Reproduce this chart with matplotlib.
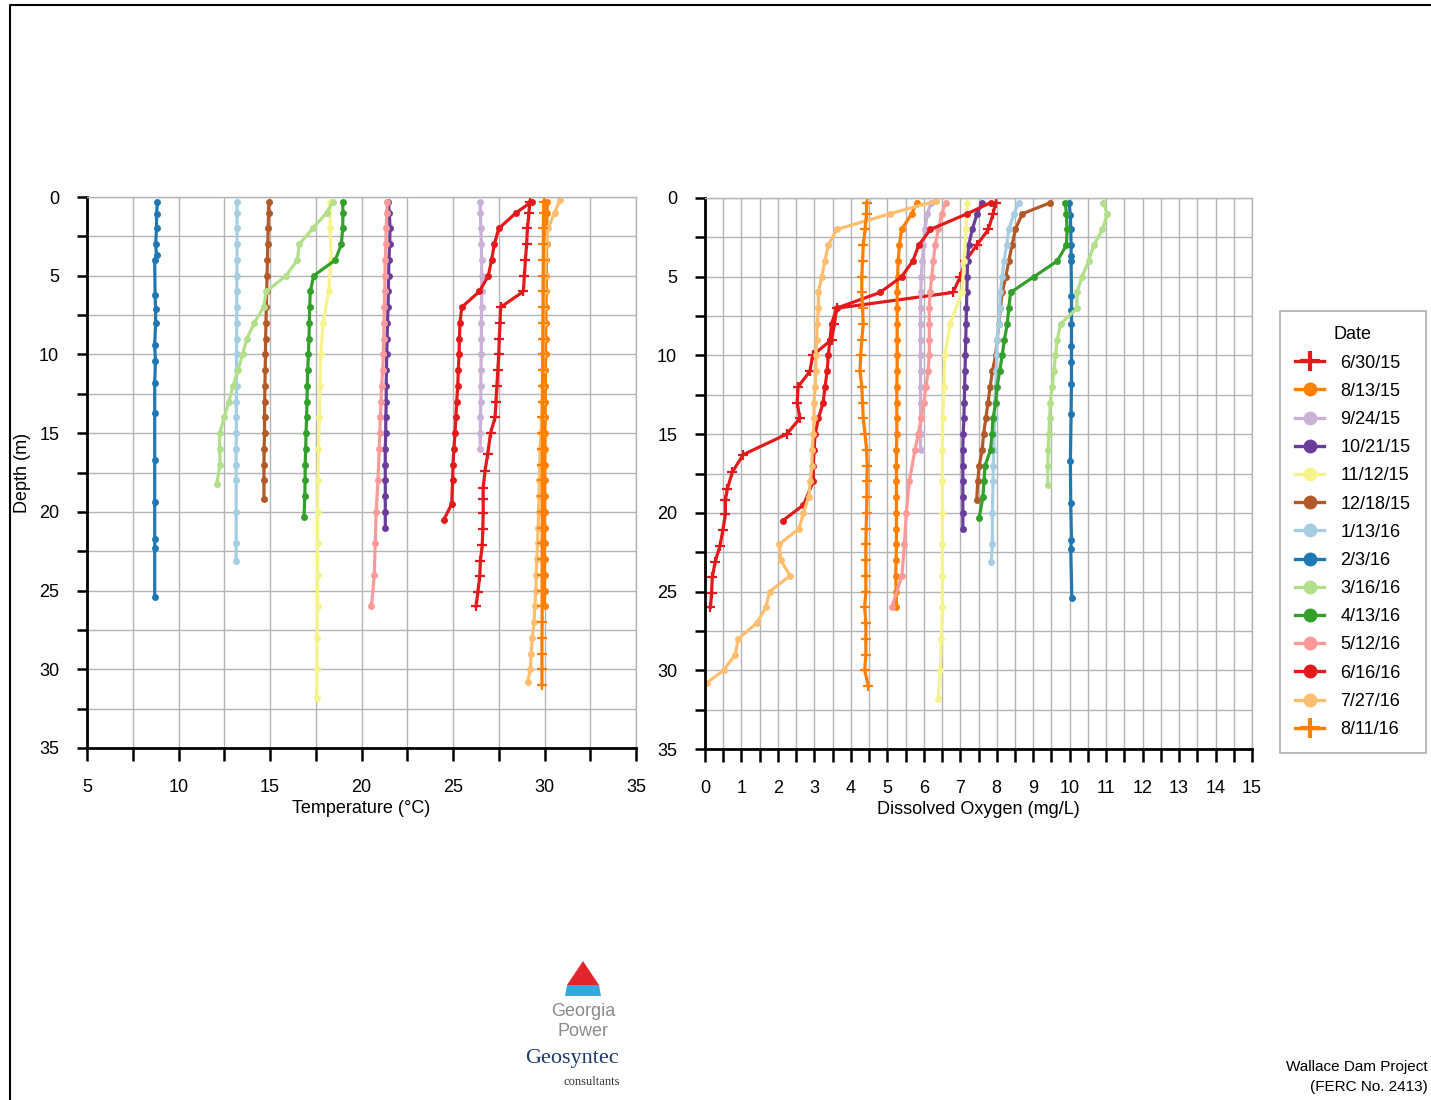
import matplotlib
matplotlib.use('Agg')
import matplotlib.pyplot as plt
from matplotlib.patches import Polygon
from matplotlib.lines import Line2D
from matplotlib.ticker import MultipleLocator

plt.rcParams['font.family'] = ['Liberation Sans', 'DejaVu Sans']

# profile data: depth (m), temperature (C), dissolved oxygen (mg/L)
dates = ['6/30/15', '8/13/15', '9/24/15', '10/21/15', '11/12/15', '12/18/15', '1/13/16',
         '2/3/16', '3/16/16', '4/13/16', '5/12/16', '6/16/16', '7/27/16', '8/11/16']
colors = ['#e31a1c', '#ff7f00', '#cab2d6', '#6a3d9a', '#f7f38c', '#b15928', '#a6cee3',
          '#1f78b4', '#b2df8a', '#33a02c', '#fb9a99', '#e31a1c', '#fdbf6f', '#ff7f00']
markers = ['+', 'o', 'o', 'o', 'o', 'o', 'o', 'o', 'o', 'o', 'o', 'o', 'o', '+']

depth_063015 = [0.3, 1, 2, 3, 4, 5, 6, 7, 8, 9, 10, 11, 12, 13, 14, 15, 16.3, 17.4, 18.5, 19.2,
                20.1, 21.1, 22.1, 23.1, 24.1, 25.1, 26.0]
temp_063015 = [29.2, 29.15, 29.07, 29.02, 28.96, 28.9, 28.85, 27.6, 27.57, 27.53, 27.5, 27.45,
               27.4, 27.35, 27.3, 27.05, 26.9, 26.75, 26.65, 26.65, 26.65, 26.63, 26.6, 26.5,
               26.46, 26.36, 26.26]
do_063015 = [7.97, 7.9, 7.77, 7.45, 7.14, 7.0, 6.8, 3.61, 3.55, 3.47, 2.95, 2.88, 2.55, 2.53,
             2.6, 2.24, 1.05, 0.75, 0.61, 0.56, 0.56, 0.49, 0.41, 0.28, 0.2, 0.18, 0.15]

depth_081315 = [0.3, 1, 2, 3, 4, 5, 6, 7, 8, 9, 10, 11, 12, 13, 14, 15, 16, 17, 18, 19, 20,
                21, 22, 23, 24, 25, 26]
temp_081315 = [30.15, 30.14, 30.12, 30.12, 30.1, 30.1, 30.1, 30.08, 30.08, 30.06, 30.06, 30.05,
               30.05, 30.04, 30.04, 30.03, 30.03, 30.02, 30.02, 30.02, 30.01, 30.01, 30.0,
               30.0, 30.0, 30.0, 30.0]
do_081315 = [5.8, 5.67, 5.39, 5.33, 5.3, 5.28, 5.27, 5.27, 5.27, 5.27, 5.27, 5.27, 5.26, 5.26,
             5.26, 5.26, 5.25, 5.25, 5.25, 5.25, 5.25, 5.25, 5.25, 5.24, 5.23, 5.24, 5.25]

depth_092415 = [0.3, 1, 2, 3, 4, 5, 6, 7, 8, 9, 10, 11, 12, 13, 14, 15, 16]
temp_092415 = [26.48, 26.5, 26.52, 26.55, 26.56, 26.57, 26.57, 26.56, 26.55, 26.55, 26.54,
               26.53, 26.52, 26.52, 26.5, 26.5, 26.48]
do_092415 = [6.2, 6.1, 6.03, 5.99, 5.96, 5.93, 5.92, 5.91, 5.91, 5.91, 5.91, 5.91, 5.91, 5.91,
             5.91, 5.91, 5.91]

depth_102115 = [0.3, 1, 2, 3, 4, 5, 6, 7, 8, 9, 10, 11, 12, 13, 14, 15, 16, 17, 18, 19, 20, 21]
temp_102115 = [21.47, 21.52, 21.56, 21.54, 21.5, 21.48, 21.47, 21.45, 21.42, 21.4, 21.38,
               21.36, 21.35, 21.35, 21.33, 21.32, 21.3, 21.3, 21.3, 21.3, 21.3, 21.3]
do_102115 = [7.6, 7.46, 7.33, 7.23, 7.2, 7.19, 7.18, 7.17, 7.16, 7.15, 7.14, 7.13, 7.12, 7.11,
             7.1, 7.08, 7.07, 7.07, 7.07, 7.07, 7.07, 7.07]

depth_111215 = [0.3, 2, 4, 6, 8, 10, 12, 14, 16, 18, 20, 22, 24, 26, 28, 30, 31.8]
temp_111215 = [18.3, 18.28, 18.35, 18.2, 17.9, 17.77, 17.73, 17.7, 17.65, 17.62, 17.6, 17.6,
               17.6, 17.6, 17.58, 17.57, 17.55]
do_111215 = [7.19, 7.16, 7.1, 7.05, 6.72, 6.58, 6.55, 6.52, 6.51, 6.51, 6.51, 6.51, 6.51, 6.51,
             6.48, 6.45, 6.4]

depth_121815 = [0.3, 1, 2, 3, 4, 5, 6, 7, 8, 9, 10, 11, 12, 13, 14, 15, 16, 17, 18, 19.2]
temp_121815 = [14.93, 14.92, 14.9, 14.88, 14.86, 14.84, 14.82, 14.8, 14.78, 14.76, 14.75, 14.74,
               14.72, 14.71, 14.7, 14.7, 14.68, 14.67, 14.67, 14.67]
do_121815 = [9.47, 8.7, 8.51, 8.42, 8.33, 8.25, 8.15, 8.1, 8.06, 8.01, 7.97, 7.88, 7.82, 7.76,
             7.7, 7.64, 7.6, 7.52, 7.48, 7.45]

depth_011316 = [0.3, 1, 2, 3, 4, 5, 6, 7, 8, 9, 10, 11, 12, 13, 14, 15, 16, 17, 18, 20, 22, 23.1]
temp_011316 = [13.2, 13.2, 13.2, 13.2, 13.2, 13.19, 13.19, 13.18, 13.18, 13.18, 13.17, 13.17,
               13.17, 13.16, 13.16, 13.16, 13.15, 13.15, 13.15, 13.15, 13.15, 13.15]
do_011316 = [8.6, 8.47, 8.33, 8.27, 8.2, 8.15, 8.1, 8.08, 8.06, 8.0, 8.0, 7.99, 7.97, 7.95,
             7.94, 7.93, 7.92, 7.9, 7.9, 7.88, 7.88, 7.85]

depth_020316 = [0.3, 1.1, 2.0, 3.0, 3.7, 4.0, 6.2, 7.1, 8.0, 9.4, 10.4, 11.8, 13.7, 16.7, 19.4,
                21.7, 22.3, 25.4]
temp_020316 = [8.85, 8.8, 8.8, 8.75, 8.8, 8.7, 8.72, 8.75, 8.75, 8.7, 8.74, 8.7, 8.7, 8.7, 8.7,
               8.7, 8.7, 8.7]
do_020316 = [9.98, 10.02, 10.03, 10.04, 10.04, 10.04, 10.05, 10.05, 10.05, 10.05, 10.05, 10.05,
             10.04, 10.02, 10.03, 10.05, 10.03, 10.06]

depth_031616 = [0.3, 1, 2, 3, 4, 5, 6, 7, 8, 9, 10, 11, 12, 13, 14, 15, 16, 17, 18.2]
temp_031616 = [18.42, 18.1, 17.33, 16.6, 16.5, 15.87, 14.8, 14.65, 14.14, 13.74, 13.5, 13.25,
               12.98, 12.75, 12.5, 12.25, 12.25, 12.28, 12.09]
do_031616 = [10.92, 11.03, 10.9, 10.66, 10.52, 10.34, 10.2, 10.2, 9.75, 9.66, 9.61, 9.57, 9.52,
             9.47, 9.45, 9.43, 9.41, 9.4, 9.4]

depth_041316 = [0.3, 1, 2, 3, 4, 5, 6, 7, 8, 9, 10, 11, 12, 13, 14, 15, 16, 17, 18, 19, 20.3]
temp_041316 = [18.97, 18.99, 18.97, 18.9, 18.57, 17.39, 17.2, 17.17, 17.15, 17.13, 17.1, 17.06,
               17.04, 17.02, 17.0, 16.97, 16.95, 16.92, 16.92, 16.9, 16.86]
do_041316 = [9.88, 9.91, 9.93, 9.91, 9.66, 9.02, 8.38, 8.33, 8.29, 8.21, 8.15, 8.08, 8.01,
             7.97, 7.9, 7.87, 7.83, 7.68, 7.65, 7.62, 7.52]

depth_051216 = [0.3, 1, 2, 3, 4, 5, 6, 7, 8, 9, 10, 11, 12, 13, 14, 15, 16, 18, 20, 22, 24, 26]
temp_051216 = [21.41, 21.38, 21.35, 21.33, 21.3, 21.28, 21.27, 21.25, 21.23, 21.21, 21.19,
               21.16, 21.1, 21.07, 21.03, 21.0, 20.97, 20.9, 20.8, 20.75, 20.7, 20.54]
do_051216 = [6.6, 6.49, 6.4, 6.31, 6.26, 6.22, 6.17, 6.15, 6.15, 6.15, 6.15, 6.12, 6.06, 6.0,
             5.93, 5.85, 5.76, 5.6, 5.52, 5.47, 5.4, 5.12]

depth_061616 = [0.3, 1, 2, 3, 4, 5, 6, 7, 8, 9, 10, 11, 12, 13, 14, 15, 16, 17, 18, 19.5, 20.5]
temp_061616 = [29.3, 28.45, 27.5, 27.26, 27.11, 26.93, 26.44, 25.48, 25.38, 25.35, 25.33,
               25.29, 25.26, 25.2, 25.16, 25.11, 25.05, 25.0, 24.98, 24.93, 24.5]
do_061616 = [7.83, 7.19, 6.18, 5.86, 5.7, 5.39, 4.8, 3.61, 3.47, 3.43, 3.38, 3.35, 3.29, 3.24,
             3.11, 3.02, 2.99, 2.97, 2.97, 2.7, 2.13]

depth_072716 = [0.2, 1, 2, 3, 4, 5, 6, 7, 8, 9, 10, 11, 12, 13, 14, 15, 16, 17, 18, 19, 20, 21,
                22, 23, 24, 25, 26, 27, 28, 29, 30, 30.8]
temp_072716 = [30.85, 30.55, 30.2, 30.1, 30.05, 30.02, 30.0, 29.98, 29.96, 29.94, 29.92, 29.9,
               29.88, 29.86, 29.84, 29.8, 29.76, 29.74, 29.72, 29.7, 29.68, 29.65, 29.62, 29.58,
               29.55, 29.53, 29.47, 29.43, 29.33, 29.27, 29.23, 29.08]
do_072716 = [6.33, 5.07, 3.61, 3.38, 3.29, 3.2, 3.11, 3.11, 3.08, 3.06, 3.04, 3.04, 3.02, 2.99,
             2.99, 2.97, 2.94, 2.93, 2.89, 2.84, 2.7, 2.58, 2.03, 2.08, 2.33, 1.77, 1.67, 1.42,
             0.91, 0.83, 0.51, 0.05]

depth_081116 = [0.3, 1, 2, 3, 4, 5, 6, 7, 8, 9, 10, 11, 12, 13, 14, 15, 16, 17, 18, 19, 20, 21,
                22, 23, 24, 25, 26, 27, 28, 29, 30, 31]
temp_081116 = [29.95, 29.95, 29.94, 29.94, 29.93, 29.93, 29.92, 29.92, 29.91, 29.91, 29.9, 29.9,
               29.9, 29.9, 29.89, 29.89, 29.89, 29.88, 29.88, 29.88, 29.88, 29.88, 29.87, 29.87,
               29.87, 29.87, 29.87, 29.87, 29.86, 29.86, 29.86, 29.86]
do_081116 = [4.43, 4.43, 4.39, 4.34, 4.32, 4.3, 4.3, 4.32, 4.34, 4.3, 4.27, 4.25, 4.3, 4.32,
             4.34, 4.39, 4.43, 4.45, 4.44, 4.44, 4.43, 4.42, 4.41, 4.41, 4.41, 4.41, 4.38, 4.41,
             4.41, 4.41, 4.38, 4.48]

depths = [depth_063015, depth_081315, depth_092415, depth_102115, depth_111215, depth_121815,
          depth_011316, depth_020316, depth_031616, depth_041316, depth_051216, depth_061616,
          depth_072716, depth_081116]
temps = [temp_063015, temp_081315, temp_092415, temp_102115, temp_111215, temp_121815,
         temp_011316, temp_020316, temp_031616, temp_041316, temp_051216, temp_061616,
         temp_072716, temp_081116]
dos = [do_063015, do_081315, do_092415, do_102115, do_111215, do_121815, do_011316, do_020316,
       do_031616, do_041316, do_051216, do_061616, do_072716, do_081116]

W, H = 1431, 1100
fig = plt.figure(figsize=(W / 100, H / 100), dpi=100)
ax_t = fig.add_axes([87 / W, 1 - 748 / H, 549 / W, 551 / H])
ax_o = fig.add_axes([705 / W, 1 - 749 / H, 547 / W, 551 / H])


def style_axis(ax, xlim, xmajor, xminor):
    ax.set_xlim(*xlim)
    ax.set_ylim(35, 0)
    ax.xaxis.set_major_locator(MultipleLocator(xmajor))
    ax.xaxis.set_minor_locator(MultipleLocator(xminor))
    ax.yaxis.set_major_locator(MultipleLocator(5))
    ax.yaxis.set_minor_locator(MultipleLocator(2.5))
    ax.grid(True, which='both', color='#b4b4b4', linewidth=1.0)
    ax.set_axisbelow(True)
    for s in ['top', 'right']:
        ax.spines[s].set_color('#b4b4b4')
        ax.spines[s].set_linewidth(1.0)
    for s in ['left', 'bottom']:
        ax.spines[s].set_color('black')
        ax.spines[s].set_linewidth(2.0)
    ax.tick_params(axis='both', which='both', direction='out', width=1.8, labelsize=13,
                   top=False, right=False)
    ax.tick_params(axis='x', which='both', length=9, pad=13)
    ax.tick_params(axis='y', which='both', length=7, pad=13)


style_axis(ax_t, (5, 35), 5, 2.5)
style_axis(ax_o, (0, 15), 1, 0.5)

handles = []
for i in range(len(dates)):
    if markers[i] == '+':
        mk = dict(marker='+', markersize=7, markeredgewidth=1.6)
    else:
        mk = dict(marker='o', markersize=5, markeredgewidth=0)
    ax_t.plot(temps[i], depths[i], color=colors[i], linewidth=2.3, **mk)
    ax_o.plot(dos[i], depths[i], color=colors[i], linewidth=2.3, **mk)
    if markers[i] == '+':
        hk = dict(marker='+', markersize=14, markeredgewidth=3)
    else:
        hk = dict(marker='o', markersize=10, markeredgewidth=0)
    handles.append(Line2D([], [], color=colors[i], linewidth=2.4, **hk))

ax_t.set_xlabel('Temperature (°C)', fontsize=13, labelpad=3)
ax_o.set_xlabel('Dissolved Oxygen (mg/L)', fontsize=13, labelpad=3)
ax_t.set_ylabel('Depth (m)', fontsize=13, labelpad=6)

leg = fig.legend(handles, dates, title='Date', loc='upper left',
                 bbox_to_anchor=(1280 / W, 1 - 311 / H), fontsize=13, title_fontsize=13,
                 frameon=True, fancybox=False, edgecolor='#999999', labelspacing=0.62,
                 handlelength=1.6, handletextpad=0.9, borderpad=0.85, borderaxespad=0)
leg.get_frame().set_linewidth(1.2)

# page frame
fig.add_artist(Line2D([10 / W, 10 / W, 1], [0, 1 - 5 / H, 1 - 5 / H], color='black',
                      linewidth=1.5, transform=fig.transFigure))

# logos
fig.add_artist(Polygon([[583 / W, 1 - 961 / H], [567 / W, 1 - 985 / H], [599 / W, 1 - 985 / H]],
                       closed=True, facecolor='#e3262d', edgecolor='none',
                       transform=fig.transFigure))
fig.add_artist(Polygon([[567 / W, 1 - 985 / H], [599 / W, 1 - 985 / H], [601 / W, 1 - 996 / H],
                        [565 / W, 1 - 996 / H]], closed=True, facecolor='#3aa6dd',
                       edgecolor='none', transform=fig.transFigure))
fig.text(583 / W, 1 - 1012 / H, 'Georgia', ha='center', va='center', fontsize=13,
         color='#8a8a8a')
fig.text(583 / W, 1 - 1031 / H, 'Power', ha='center', va='center', fontsize=13,
         color='#8a8a8a')
fig.text(572 / W, 1 - 1058 / H, 'Geosyntec', ha='center', va='center', fontsize=16,
         color='#1d3a6e', family=['Liberation Serif', 'DejaVu Serif'])
fig.text(592 / W, 1 - 1082 / H, 'consultants', ha='center', va='center', fontsize=9,
         color='#333333', family=['Liberation Serif', 'DejaVu Serif'])

fig.text(1428 / W, 1 - 1067 / H, 'Wallace Dam Project', ha='right', va='center', fontsize=11)
fig.text(1428 / W, 1 - 1087 / H, '(FERC No. 2413)', ha='right', va='center', fontsize=11)

fig.savefig('out.png', dpi=100)
